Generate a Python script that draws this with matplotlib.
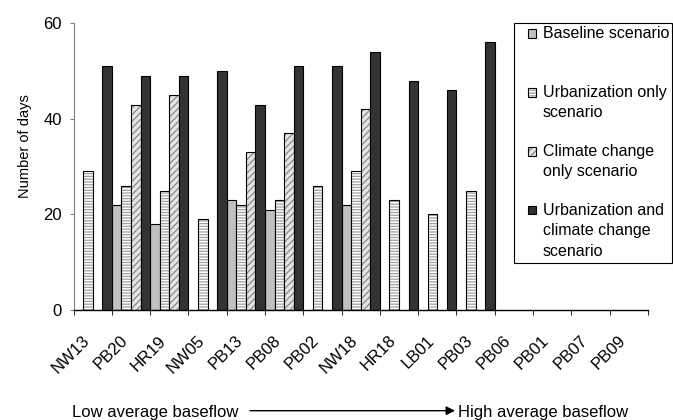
import numpy as np
import matplotlib.pyplot as plt
from matplotlib.patches import Rectangle
from matplotlib.transforms import ScaledTranslation

plt.rcParams['font.family'] = ['Liberation Sans', 'DejaVu Sans']
plt.rcParams['hatch.linewidth'] = 0.9

nan = np.nan
# sites ordered from low to high average baseflow
sites = ['NW13', 'PB20', 'HR19', 'NW05', 'PB13', 'PB08', 'PB02', 'NW18',
         'HR18', 'LB01', 'PB03', 'PB06', 'PB01', 'PB07', 'PB09']
baseline = [nan, 22, 18, nan, 23, 21, nan, 22, nan, nan, nan, nan, nan, nan, nan]
urban_only = [29, 26, 25, 19, 22, 23, 26, 29, 23, 20, 25, nan, nan, nan, nan]
climate_only = [nan, 43, 45, nan, 33, 37, nan, 42, nan, nan, nan, nan, nan, nan, nan]
urban_climate = [51, 49, 49, 50, 43, 51, 51, 54, 48, 46, 56, nan, nan, nan, nan]
scenario_names = ['Baseline scenario',
                  'Urbanization only\nscenario',
                  'Climate change\nonly scenario',
                  'Urbanization and\nclimate change\nscenario']
y_ticks = [0, 20, 40, 60]

# fill colour, hatch colour, hatch pattern per scenario
styles = [('#c0c0c0', None, ''),
          ('white', '#a0a0a0', '------'),
          ('#e4e4e4', '#8a8a8a', '/////'),
          ('#333333', None, '')]

W, H = 673, 420
fig = plt.figure(figsize=(W / 100, H / 100), dpi=100)
ax = fig.add_axes([73.5 / W, 110 / H, 574.5 / W, 286.7 / H])

x = np.arange(len(sites))
w = 0.25
series = [baseline, urban_only, climate_only, urban_climate]
for k, (vals, (fc, hc, hatch)) in enumerate(zip(series, styles)):
    pos = x + (k - 1.5) * w
    if hatch:
        ax.bar(pos, vals, w, color=fc, edgecolor=hc, hatch=hatch, linewidth=0)
        ax.bar(pos, vals, w, fill=False, edgecolor='black', linewidth=0.8)
    else:
        ax.bar(pos, vals, w, color=fc, edgecolor='black', linewidth=0.8)

ax.set_xlim(-0.5, len(sites) - 0.5)
ax.set_ylim(0, 60)
ax.set_yticks(y_ticks)
ax.spines[['top', 'right']].set_visible(False)
ax.spines['left'].set_color('#808080')
ax.spines['bottom'].set_linewidth(1)
ax.tick_params(axis='y', length=3, color='#808080', pad=5.5, labelsize=12)

# labels sit under the category centres, tick marks on the boundaries
ax.set_xticks(x, sites)
ax.set_xticks(np.arange(len(sites) + 1) - 0.5, minor=True)
ax.tick_params(axis='x', which='major', length=0, pad=16.5, labelsize=12)
ax.tick_params(axis='x', which='minor', length=3.6, color='black')
shift = ScaledTranslation(-0.11, 0, fig.dpi_scale_trans)
for lab in ax.get_xticklabels():
    lab.set_rotation(45)
    lab.set_ha('right')
    lab.set_va('top')
    lab.set_rotation_mode('anchor')
    lab.set_transform(lab.get_transform() + shift)

fig.text(25 / W, 1 - 146 / H, 'Number of days', rotation=90,
         ha='center', va='center', fontsize=10.5)

# legend box
fig.add_artist(Rectangle((514 / W, 157 / H), 157.5 / W, 239.7 / H,
                         transform=fig.transFigure, facecolor='white',
                         edgecolor='black', linewidth=0.8, zorder=5))
for k, (name, (fc, hc, hatch)) in enumerate(zip(scenario_names, styles)):
    y0 = 33.5 + 59 * k
    box = (528 / W, 1 - (y0 + 4) / H)
    if hatch:
        fig.add_artist(Rectangle(box, 8 / W, 8 / H, transform=fig.transFigure,
                                 facecolor=fc, edgecolor=hc, hatch=hatch,
                                 linewidth=0, zorder=6))
        fig.add_artist(Rectangle(box, 8 / W, 8 / H, transform=fig.transFigure,
                                 fill=False, edgecolor='black', linewidth=0.8,
                                 zorder=7))
    else:
        fig.add_artist(Rectangle(box, 8 / W, 8 / H, transform=fig.transFigure,
                                 facecolor=fc, edgecolor='black',
                                 linewidth=0.8, zorder=6))
    for j, line in enumerate(name.split('\n')):
        fig.text(543 / W, 1 - (y0 + 20.3 * j) / H, line, va='center',
                 fontsize=11.5, zorder=8)

# baseflow direction along the bottom
fig.text(71.7 / W, 3.5 / H, 'Low average baseflow', fontsize=12, va='baseline')
fig.text(458 / W, 3.5 / H, 'High average baseflow', fontsize=12, va='baseline')
ax.annotate('', xy=(455 / W, 9.3 / H), xytext=(250 / W, 9.3 / H),
            xycoords='figure fraction', textcoords='figure fraction',
            annotation_clip=False,
            arrowprops=dict(arrowstyle='-|>', color='black', lw=1,
                            mutation_scale=13, shrinkA=0, shrinkB=0))

fig.savefig('out.png', dpi=100)
